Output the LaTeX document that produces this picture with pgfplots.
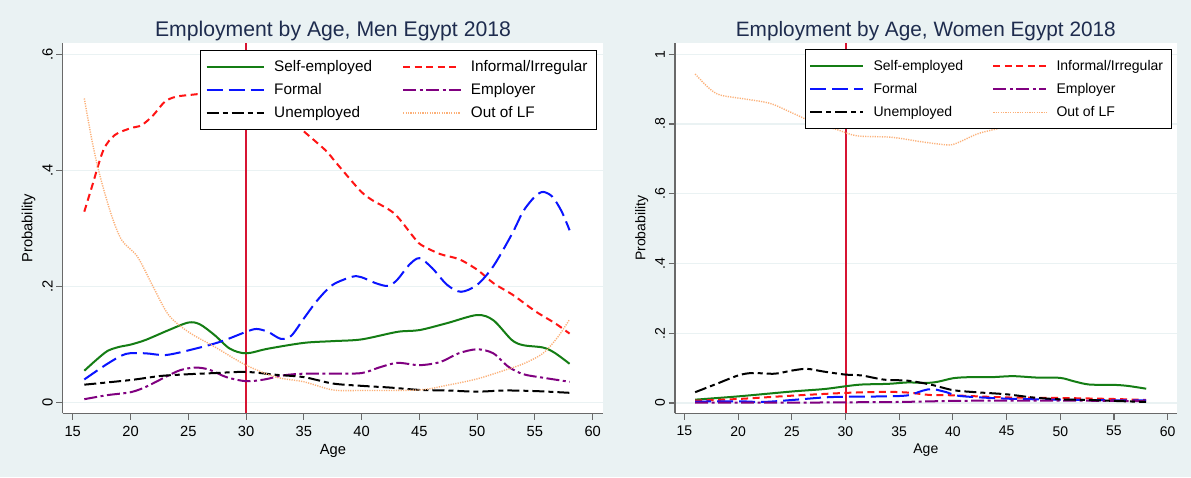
\documentclass[border=0pt]{standalone}
\usepackage{fontspec}
\setmainfont{Liberation Sans}
\usepackage{pgfplots}
\pgfplotsset{compat=1.18}

\definecolor{bgc}{RGB}{234,242,243}
\definecolor{gridc}{RGB}{234,242,243}
\definecolor{axisc}{RGB}{105,105,105}
\definecolor{titlec}{RGB}{30,44,78}
\definecolor{sgreen}{RGB}{20,125,20}
\definecolor{sred}{RGB}{255,20,20}
\definecolor{sblue}{RGB}{10,20,255}
\definecolor{spurple}{RGB}{128,0,128}
\definecolor{sorange}{RGB}{252,176,120}
\definecolor{xlinec}{RGB}{215,20,50}

\pgfplotsset{
  stataaxis/.style={
    scale only axis,
    axis background/.style={fill=white},
    axis x line*=bottom, axis y line*=left,
    axis line style={draw=axisc, line width=1.1pt},
    tick style={draw=axisc, line width=1.1pt},
    tick align=outside,
    major tick length=6.5pt,
    ymajorgrids, grid style={draw=gridc, line width=1.3pt},
    xtick={15,20,...,60},
    /pgf/number format/assume math mode=true,
    yticklabel style={rotate=90, anchor=south},
    xticklabel style={yshift=-3pt},
    xlabel style={yshift=-1pt},
    every axis title/.style={at={(0.5,1)}, anchor=base, yshift=6.5pt, color=titlec},
    legend cell align=left,
    legend columns=2,
    smooth, tension=0.5,
  },
  refline/.style={draw=xlinec, color=xlinec, forget plot, sharp plot},
  selfE/.style={sgreen, line width=2pt, solid},
  inform/.style={sred, line width=2pt, dash pattern=on 7pt off 4.5pt},
  formal/.style={sblue, line width=2pt, dash pattern=on 16pt off 6pt},
  employer/.style={spurple, line width=2pt, dash pattern=on 13pt off 3.5pt on 3pt off 3.5pt},
  unemp/.style={black, line width=2pt, dash pattern=on 12pt off 4pt on 5pt off 4pt},
  outlf/.style={sorange, line width=1.4pt, dash pattern=on 1.2pt off 1.2pt},
}

\begin{document}
\begin{tikzpicture}
\fill[bgc] (0pt,0pt) rectangle (1191pt,477pt);

% ---------------- Men ----------------
\begin{axis}[stataaxis,
  at={(62.7pt,63.7pt)}, anchor=south west,
  width=540.6pt, height=370pt,
  xmin=14.13, xmax=60.92, ymin=-0.0183, ymax=0.619,
  ytick={0,0.2,0.4,0.6}, yticklabels={0,.2,.4,.6},
  ticklabel style={font=\fontsize{14.7}{17}\selectfont},
  label style={font=\fontsize{14.7}{17}\selectfont},
  title style={font=\fontsize{21.2}{24}\selectfont},
  title={Employment by Age, Men Egypt 2018},
  xlabel={Age}, ylabel={Probability},
  legend image code/.code={\draw[#1] (0pt,0pt) -- (57.5pt,0pt);},
  legend style={at={(0.9884,0.982)}, anchor=north east, draw=black, line width=0.8pt,
    fill=white, font=\fontsize{15.3}{18}\selectfont, nodes={inner sep=4.2pt},
    inner xsep=5pt, inner ysep=6pt, row sep=2pt,
    /tikz/every odd column/.append style={column sep=5pt},
    /tikz/every even column/.append style={column sep=26pt}},
]
\addplot[refline, line width=1.2pt] coordinates {(30,-0.0183) (30,0.619)};

\addplot[selfE] coordinates {
(16,0.055)(17,0.073)(18,0.089)(19,0.096)(20,0.100)(21.3,0.108)(23.3,0.125)(25,0.138)
(26,0.135)(27.3,0.116)(28.6,0.093)(30,0.085)(31.9,0.093)(35,0.103)(37.5,0.106)(40,0.109)
(43.1,0.122)(45,0.125)(47.4,0.137)(50,0.151)(51.4,0.142)(53,0.108)(54,0.099)(55.7,0.095)
(56.7,0.086)(58,0.067)};
\addlegendentry{Self-employed}

\addplot[inform] coordinates {
(16,0.329)(16.66,0.372)(17.65,0.435)(18.64,0.461)(19.97,0.4725)(20.96,0.478)(21.96,0.495)
(22.95,0.518)(23.94,0.527)(25.6,0.531)(27.5,0.535)(29.5,0.535)(31.5,0.525)(33.2,0.500)
(34.87,0.4696)(36.86,0.435)(37.85,0.412)(39.84,0.366)(40.83,0.350)(42.82,0.326)(44.47,0.286)
(45.14,0.272)(46.8,0.256)(48.45,0.247)(50.04,0.2285)(51.43,0.2056)(53.1,0.1855)(55.07,0.157)
(56.73,0.137)(58,0.119)};
\addlegendentry{Informal/Irregular}

\addplot[formal] coordinates {
(16,0.040)(18,0.067)(19.6,0.084)(21.3,0.085)(23,0.082)(25,0.090)(27.3,0.102)(28.6,0.111)
(30,0.122)(30.9,0.127)(31.9,0.122)(33,0.110)(33.9,0.115)(35,0.145)(36.2,0.177)(37.5,0.203)
(39.2,0.217)(40,0.216)(41.2,0.206)(42.3,0.201)(43.1,0.212)(44.1,0.237)(45,0.249)(46.1,0.232)
(47.4,0.203)(48.6,0.191)(50,0.203)(51.4,0.235)(53,0.290)(54,0.330)(55,0.355)(55.7,0.363)
(56.5,0.355)(57.3,0.330)(58,0.297)};
\addlegendentry{Formal}

\addplot[employer] coordinates {
(16,0.006)(18,0.013)(20,0.018)(21.3,0.027)(23,0.044)(24.3,0.056)(25.6,0.0605)(26.8,0.057)
(28.3,0.044)(30,0.037)(31.6,0.040)(33.2,0.047)(35,0.050)(37.5,0.050)(40,0.051)(41.5,0.0605)
(43.1,0.0686)(45,0.0646)(46.8,0.070)(48.4,0.085)(50,0.092)(51.4,0.085)(52.7,0.062)(54,0.049)
(55.7,0.043)(58,0.036)};
\addlegendentry{Employer}

\addplot[unemp] coordinates {
(16,0.031)(20,0.039)(22.6,0.046)(25,0.049)(27.3,0.051)(30,0.053)(32.6,0.048)(35,0.044)
(37.5,0.033)(40,0.029)(42.5,0.026)(45,0.022)(47.4,0.021)(50,0.019)(52.4,0.021)(55,0.020)
(58,0.017)};
\addlegendentry{Unemployed}

\addplot[outlf] coordinates {
(16,0.524)(16.66,0.452)(17.3,0.395)(18.3,0.326)(19.24,0.280)(20.6,0.2515)(21.95,0.200)
(23.3,0.151)(25,0.122)(27.3,0.096)(30,0.0646)(32.6,0.044)(35,0.036)(37.5,0.022)(40,0.021)
(45,0.022)(47.4,0.030)(50,0.041)(52.4,0.056)(54,0.067)(55.7,0.085)(57,0.1135)(58,0.1435)};
\addlegendentry{Out of LF}
\end{axis}

% ---------------- Women ----------------
\begin{axis}[stataaxis,
  at={(675pt,63.7pt)}, anchor=south west,
  width=501.7pt, height=370pt,
  xmin=14.125, xmax=60.84, ymin=-0.0295, ymax=1.0315,
  ytick={0,0.2,0.4,0.6,0.8,1}, yticklabels={0,.2,.4,.6,.8,1},
  ticklabel style={font=\fontsize{14}{16}\selectfont},
  label style={font=\fontsize{14}{16}\selectfont},
  title style={font=\fontsize{20.8}{24}\selectfont},
  title={Employment by Age, Women Egypt 2018},
  xlabel={Age}, ylabel={Probability},
  legend image code/.code={\draw[#1] (0pt,0pt) -- (53pt,0pt);},
  legend style={at={(0.990,0.984)}, anchor=north east, draw=black, line width=0.8pt,
    fill=white, font=\fontsize{14}{17}\selectfont, nodes={inner sep=4.2pt},
    inner xsep=4pt, inner ysep=6.5pt, row sep=3pt,
    /tikz/every odd column/.append style={column sep=5pt},
    /tikz/every even column/.append style={column sep=25pt}},
]
\addplot[refline, line width=2pt] coordinates {(30,-0.0295) (30,1.0315)};

\addplot[selfE] coordinates {
(16,0.0096)(20,0.019)(25,0.033)(28,0.040)(30,0.048)(31.5,0.053)(34,0.055)(35.8,0.059)
(37.5,0.0575)(38.6,0.061)(40,0.071)(41.4,0.074)(43.5,0.074)(45.6,0.077)(47.8,0.073)(50,0.072)
(51.3,0.062)(52.7,0.053)(55,0.052)(56.3,0.049)(58,0.041)};
\addlegendentry{Self-employed}

\addplot[inform] coordinates {
(16,0.0067)(20,0.0115)(25,0.021)(30,0.029)(33.6,0.032)(35.8,0.030)(37.9,0.023)(40,0.022)
(45,0.016)(50,0.0144)(55,0.0115)(58,0.0086)};
\addlegendentry{Informal/Irregular}

\addplot[formal] coordinates {
(16,0.004)(20,0.005)(22.3,0.003)(25,0.0086)(28,0.016)(30,0.018)(33.6,0.019)(35.8,0.022)
(37.2,0.0355)(38.1,0.040)(39.4,0.031)(40.7,0.020)(45,0.0125)(50,0.0096)(55,0.0077)(58,0.0077)};
\addlegendentry{Formal}

\addplot[employer] coordinates {
(16,0.001)(20,0.001)(25,0.001)(30,0.002)(35,0.003)(40,0.006)(45,0.007)(50,0.007)(55,0.006)(58,0.005)};
\addlegendentry{Employer}

\addplot[unemp] coordinates {
(16,0.031)(18,0.055)(20,0.079)(21.3,0.086)(23.4,0.084)(25,0.093)(26.4,0.098)(28,0.090)
(30,0.0815)(31.5,0.079)(33.6,0.067)(35.8,0.064)(37.9,0.053)(40,0.037)(42.1,0.031)(45,0.025)
(47.4,0.016)(50,0.0105)(52.7,0.0086)(55,0.006)(58,0.003)};
\addlegendentry{Unemployed}

\addplot[outlf] coordinates {
(16,0.9435)(17.3,0.9025)(18.35,0.883)(20.8,0.871)(23,0.859)(25.1,0.831)(27,0.805)(29.3,0.783)
(31.1,0.766)(34.3,0.762)(37.1,0.749)(39.6,0.740)(40.65,0.749)(42.4,0.773)(44.9,0.792)(47,0.81)
(50,0.83)(53,0.845)(56,0.855)(58,0.86)};
\addlegendentry{Out of LF}
\end{axis}
\end{tikzpicture}
\end{document}
